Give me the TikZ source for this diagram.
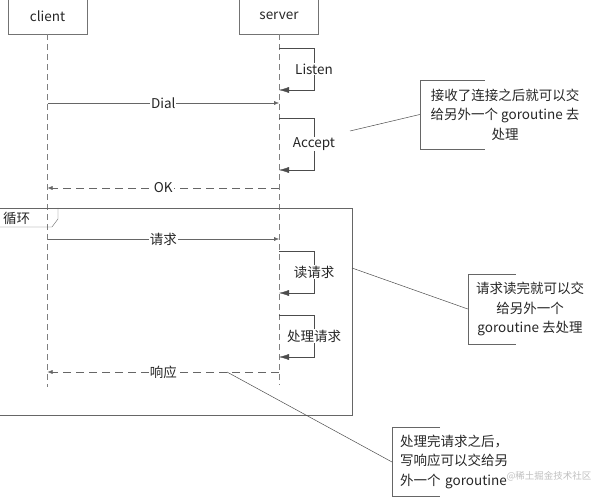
\documentclass[tikz,border=0pt]{standalone}
\usepackage{fontspec}
\setmainfont{Noto Sans CJK SC}
\usetikzlibrary{arrows.meta,positioning,calc}

\begin{document}
\begin{tikzpicture}[x=1pt,y=-1pt,
  every node/.style={font=\fontsize{13.5}{19.5}\selectfont, text=black!85},
  actor/.style={draw=black!55, minimum width=79pt, minimum height=36pt},
  life/.style={draw=black!50, dash pattern=on 6pt off 4pt},
  msg/.style={draw=black!60, -{Latex[length=5pt,width=4pt]}},
  reply/.style={msg, dash pattern=on 8pt off 5pt},
  selfmsg/.style={draw=black!70, -{Latex[length=10pt,width=6pt]}},
  lbl/.style={fill=white, inner sep=1pt},
  notebox/.style={draw=black!60},
  link/.style={draw=black!70, line width=0.5pt}]
  \useasboundingbox (0,0) rectangle (592,497);

  % lifelines
  \node[actor] (client) at (47.5,16) {client};
  \node[actor] (server) at (279,16) {server};
  \coordinate (clientEnd) at (47.5,387);
  \coordinate (serverEnd) at (279,385);
  \draw[life] (client.south) -- (clientEnd);
  \draw[life] (server.south) -- (serverEnd);

  % connect
  \coordinate (lisA) at (279,48);
  \coordinate (lisB) at (279,90);
  \draw[selfmsg] (lisA) -- ++(35,0) |- node[pos=0.25,lbl] (listen) {Listen} (lisB);

  \coordinate (dialC) at (47.5,103);
  \coordinate (dialS) at (279,103);
  \draw[msg] (dialC) -- node[lbl] (dial) {Dial} (dialS);

  \coordinate (accA) at (279,118);
  \coordinate (accB) at (279,170);
  \draw[selfmsg] (accA) -- ++(35,0) |- node[pos=0.25,lbl] (accept) {Accept} (accB);

  \coordinate (okS) at (279,188);
  \coordinate (okC) at (47.5,188);
  \draw[reply] (okS) -- node[lbl] (ok) {OK} (okC);

  % loop frame
  \draw[draw=black!60] (-1,208) rectangle (352,415);
  \node[anchor=west, inner sep=3pt] (loopTag) at (0,218) {循环};
  \draw[draw=black!60] (0,227) -- (52,227) -- (58,219) -- (58,208);

  \coordinate (reqC) at (47.5,239);
  \coordinate (reqS) at (279,239);
  \draw[msg] (reqC) -- node[lbl] (req) {请求} (reqS);

  \coordinate (readA) at (279,251);
  \coordinate (readB) at (279,293);
  \draw[selfmsg] (readA) -- ++(35,0) |- node[pos=0.25,lbl] (read) {读请求} (readB);

  \coordinate (procA) at (279,315);
  \coordinate (procB) at (279,357);
  \draw[selfmsg] (procA) -- ++(35,0) |- node[pos=0.25,lbl] (proc) {处理请求} (procB);

  \coordinate (respS) at (279,372);
  \coordinate (respC) at (47.5,372);
  \draw[reply] (respS) -- node[lbl] (resp) {响应} (respC);

  % notes
  \node[align=center, minimum width=170pt, minimum height=69pt] (note1) at (505,114.5)
    {接收了连接之后就可以交\\给另外一个 goroutine 去\\处理};
  \draw[notebox] ($(note1.north west)+(65,0)$) -- (note1.north west) -- (note1.south west) -- ++(65,0);
  \coordinate (accLink) at (350,131);
  \draw[link] (note1.west) -- (accLink);

  \node[align=center, minimum width=124pt, minimum height=70pt] (note2) at (530,309)
    {请求读完就可以交\\给另外一个\\goroutine 去处理};
  \draw[notebox] ($(note2.north west)+(48,0)$) -- (note2.north west) -- (note2.south west) -- ++(48,0);
  \coordinate (readLink) at (352,268);
  \draw[link] (readLink) -- (note2.west);

  \node[align=left, anchor=north west, minimum height=69pt, inner sep=0pt, text width=130pt] (note3) at (400,427)
    {处理完请求之后，\\写响应可以交给另\\外一个 goroutine};
  \draw[notebox] (440,427) -- (392,427) -- (392,496) -- (440,496);
  \coordinate (respLink) at (227,372);
  \draw[link] (respLink) -- (392,462);
  \node[text=black!25, font=\fontsize{9.5}{11}\selectfont, inner sep=1pt] (mark) at (549,476) {@稀土掘金技术社区};
\end{tikzpicture}
\end{document}
